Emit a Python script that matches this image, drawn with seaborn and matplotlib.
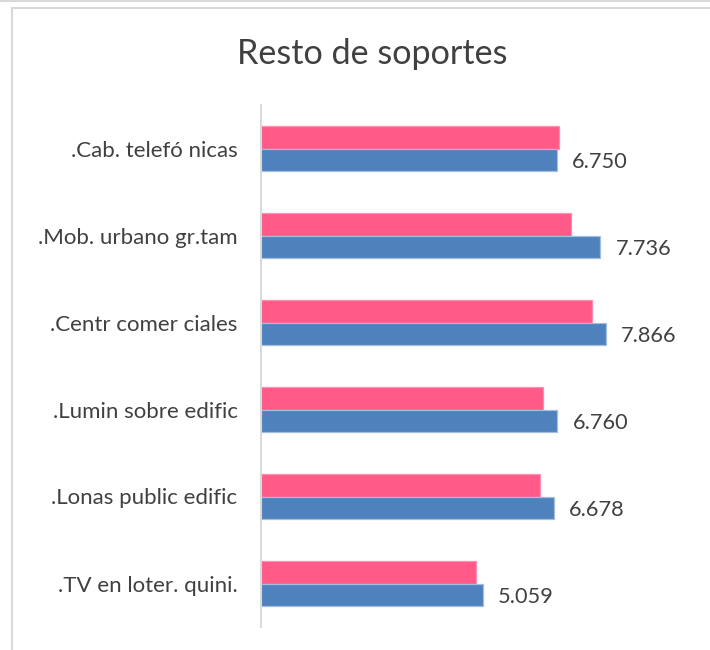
import matplotlib
matplotlib.use("Agg")
import matplotlib.pyplot as plt
from matplotlib.lines import Line2D
import seaborn as sns
import pandas as pd

# Categories (top to bottom) and the two series
categorias = [".Cab. telefó nicas", ".Mob. urbano gr.tam", ".Centr comer ciales",
              ".Lumin sobre edific", ".Lonas public edific", ".TV en loter. quini."]
serie_1 = [6.80, 7.08, 7.54, 6.44, 6.36, 4.90]
serie_2 = [6.750, 7.736, 7.866, 6.760, 6.678, 5.059]
series = ["Serie 1", "Serie 2"]
colores = ["#FF5A88", "#4F81BD"]
bordes = ["#FF8FB0", "#A3BEDF"]
titulo = "Resto de soportes"

df = pd.DataFrame({
    "categoria": categorias * 2,
    "valor": serie_1 + serie_2,
    "serie": [series[0]] * len(categorias) + [series[1]] * len(categorias),
})

sns.set_theme(style="white")
plt.rcParams["font.family"] = ["Lato", "DejaVu Sans"]
texto = "#404040"

W, H = 710, 650
fig = plt.figure(figsize=(W / 100, H / 100), dpi=100)
fig.patch.set_facecolor("white")

ax = fig.add_axes([260.5 / W, 1 - 627 / H, 439 / W, (627 - 105) / H])
sns.barplot(data=df, y="categoria", x="valor", hue="serie", order=categorias,
            hue_order=series, palette=colores, saturation=1, width=0.506,
            orient="h", ax=ax, legend=False, linewidth=0)

# light outline on each bar, matching its series
for cont, borde in zip(ax.containers, bordes):
    for p in cont.patches:
        p.set_edgecolor(borde)
        p.set_linewidth(0.9)

# value labels on the second series, nudged slightly downwards
etiquetas = ax.bar_label(ax.containers[1], labels=[f"{v:.3f}" for v in serie_2],
                         padding=11, fontsize=15.7, color=texto)
for t in etiquetas:
    t.xyann = (11, -2)

ax.set_xlim(0, 10)
ax.set_xlabel("")
ax.set_ylabel("")
ax.set_xticks([])
ax.tick_params(axis="y", length=0, pad=16.5, labelsize=16, labelcolor=texto)
for s in ["top", "right", "bottom"]:
    ax.spines[s].set_visible(False)
ax.spines["left"].set_color("#D9D9D9")
ax.spines["left"].set_linewidth(1.4)
ax.set_facecolor("white")

fig.text(372 / W, 1 - 54 / H, titulo, ha="center", va="center",
         fontsize=24.6, color=texto)

# chart frame
marco = "#D9D9D9"
fig.add_artist(Line2D([0, 1], [1 - 0.8 / H] * 2, color=marco, lw=1.5,
                      transform=fig.transFigure))
fig.add_artist(Line2D([12 / W, 1], [1 - 7.5 / H] * 2, color=marco, lw=1.5,
                      transform=fig.transFigure))
fig.add_artist(Line2D([12 / W] * 2, [0, 1 - 7.5 / H], color=marco, lw=1.5,
                      transform=fig.transFigure))

fig.savefig("out.png", dpi=100, facecolor="white")
